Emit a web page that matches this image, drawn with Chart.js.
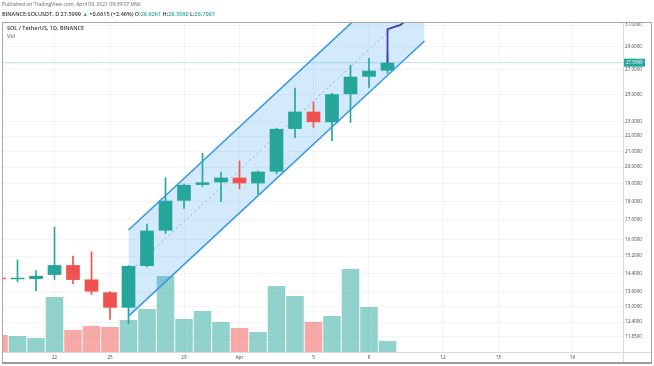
<!DOCTYPE html>
<html><head><meta charset="utf-8">
<script src="https://cdn.jsdelivr.net/npm/chart.js@4"></script>
<style>
html,body{margin:0;padding:0;background:#fff;}
#wrap{position:relative;width:654px;height:366px;overflow:hidden;font-family:'Open Sans',sans-serif;}
canvas{position:absolute;left:0;top:0;}
.t{position:absolute;white-space:nowrap;line-height:1;}
.g{color:#26a69a;}
</style></head><body>
<div id="wrap">
<canvas id="c" width="654" height="366"></canvas>
<div class="t" style="left:2px;top:2px;font-size:5px;color:#666">Published on TradingView.com, April 09, 2021 09:39:07 MSK</div>
<div class="t" style="left:2px;top:12px;font-size:5.5px;font-weight:600;color:#333">BINANCE:SOLUSDT, D 27.5999 <span class="g">▲</span> +0.6615 (+2.46%) O:<span class="g">26.9261</span> H:<span class="g">28.3580</span> L:<span class="g">26.7097</span></div>
<div class="t" style="left:7px;top:26px;font-size:5.5px;font-weight:600;color:#333">SOL / TetherUS, 1D, BINANCE</div>
<div class="t" style="left:7px;top:34px;font-size:5.5px;color:#555">Vol</div>
</div>
<script>
const dates = ['Mar 19','Mar 20','Mar 21','Mar 22','Mar 23','Mar 24','Mar 25','Mar 26','Mar 27','Mar 28','Mar 29','Mar 30','Mar 31','Apr 1','Apr 2','Apr 3','Apr 4','Apr 5','Apr 6','Apr 7','Apr 8','Apr 9'];
const open  = [14.19,14.15,14.16,14.34,14.78,14.14,13.59,12.96,14.74,16.44,18.03,18.93,19.08,19.36,19.02,19.72,22.50,23.73,22.97,25.04,26.43,26.9261];
const high  = [14.22,15.02,14.53,16.61,15.20,15.40,13.62,14.76,16.77,19.36,18.98,20.87,19.70,20.38,19.75,22.55,25.51,24.44,25.10,27.40,27.98,28.358];
const low   = [14.12,14.04,13.65,14.14,13.96,13.50,12.50,12.35,14.70,16.30,17.60,18.85,17.97,18.70,18.40,19.60,21.90,22.60,21.70,22.95,25.57,26.7097];
const close = [14.15,14.19,14.30,14.78,14.12,13.62,12.96,14.74,16.44,18.03,18.93,19.08,19.36,19.02,19.72,22.50,23.73,22.97,25.04,26.43,26.93,27.5999];
const volume = [1.7,1.6,1.4,5.5,2.2,2.6,2.5,3.2,4.3,7.6,3.3,4.1,3.0,2.4,2.0,6.6,5.6,3.0,3.6,8.3,4.5,1.1];
const priceTicks = [31,29,27,25,23,22,21,20,19,18,17,16,15.2,14.4,13.6,13,12.4,11.85];
const dayTicks = [3,6,10,13,17,20,24,27,31];
const dayTickLabels = ['22','25','29','Apr','5','8','12','15','19'];
const channelDays = [7,23];
const channelUpper = [16.47,38.48];
const channelLower = [12.63,29.51];
const channelMid = [14.42,33.70];
const projDays = [21,21,21.14,21.41,21.68,21.85,22.0];
const projPrices = [27.5999,30.60,30.69,30.84,30.98,31.22,31.35];
const lastPrice = 27.5999;

const UP='#26a69a', DOWN='#ef5350';
const isUp = close.map((c,i)=>c>=open[i]);

const decor = {
  id:'decor',
  afterDraw(chart){
    const ctx=chart.ctx, y=chart.scales.y, a=chart.chartArea;
    const py=y.getPixelForValue(lastPrice);
    ctx.save();
    ctx.strokeStyle='#dadada'; ctx.lineWidth=1;
    ctx.beginPath(); ctx.moveTo(a.left,a.bottom+0.5); ctx.lineTo(652,a.bottom+0.5); ctx.stroke();
    ctx.beginPath(); ctx.moveTo(a.right+0.5,a.top); ctx.lineTo(a.right+0.5,363); ctx.stroke();
    ctx.fillStyle=UP;
    ctx.fillRect(a.right+1, py-4, 21, 8);
    ctx.fillStyle='#fff'; ctx.font='4.5px "Open Sans"'; ctx.textBaseline='middle'; ctx.textAlign='left';
    ctx.fillText(lastPrice.toFixed(4), a.right+3, py);
    ctx.strokeStyle='#a8a8a8';
    ctx.strokeRect(2.5,22.5,649,340);
    ctx.fillStyle='#9c9c9c'; ctx.fillRect(2,362,650,2);
    ctx.restore();
  }
};

new Chart(document.getElementById('c'), {
  type:'bar',
  data:{
    datasets:[
      {type:'bar', label:'Vol', yAxisID:'yv', order:10, grouped:false,
       data: volume.map((v,i)=>({x:i,y:v})),
       backgroundColor: isUp.map(u=>u?'rgba(38,166,154,0.5)':'rgba(239,83,80,0.5)'),
       barPercentage:0.95, categoryPercentage:1, borderWidth:0},
      {type:'bar', label:'wick', yAxisID:'y', order:8, grouped:false,
       data: dates.map((d,i)=>({x:i,y:[low[i],high[i]]})),
       backgroundColor: isUp.map(u=>u?UP:DOWN), barThickness:1, borderWidth:0},
      {type:'bar', label:'body', yAxisID:'y', order:7, grouped:false,
       data: dates.map((d,i)=>({x:i,y:[open[i],close[i]]})),
       backgroundColor: isUp.map(u=>u?UP:DOWN), barPercentage:0.74, categoryPercentage:1, minBarLength:1.5, borderWidth:0},
      {type:'line', label:'fillUpper', yAxisID:'y', order:9,
       data: channelDays.map((d,i)=>({x:d,y:channelUpper[i]})),
       borderWidth:0, pointRadius:0, fill:'+1', backgroundColor:'rgba(33,150,243,0.2)'},
      {type:'line', label:'fillLower', yAxisID:'y', order:9,
       data: channelDays.map((d,i)=>({x:d,y:channelLower[i]})),
       borderWidth:0, pointRadius:0, fill:false},
      {type:'line', label:'upper', yAxisID:'y', order:5,
       data: channelDays.map((d,i)=>({x:d,y:channelUpper[i]})),
       borderColor:'#3a97e6', borderWidth:1.6, pointRadius:0, fill:false},
      {type:'line', label:'lower', yAxisID:'y', order:5,
       data: channelDays.map((d,i)=>({x:d,y:channelLower[i]})),
       borderColor:'#3a97e6', borderWidth:1.6, pointRadius:0, fill:false},
      {type:'line', label:'mid', yAxisID:'y', order:4,
       data: channelDays.map((d,i)=>({x:d,y:channelMid[i]})),
       borderColor:'rgba(110,130,150,0.6)', borderWidth:1, borderDash:[2,3], pointRadius:0, fill:false},
      {type:'line', label:'last', yAxisID:'y', order:9,
       data: [{x:0.216,y:lastPrice},{x:33.73,y:lastPrice}],
       borderColor:'rgba(38,166,154,0.3)', borderWidth:1, pointRadius:0, fill:false},
      {type:'line', label:'proj', yAxisID:'y', order:1,
       data: projDays.map((d,i)=>({x:d,y:projPrices[i]})),
       borderColor:'#4a3aa8', borderWidth:1.8, pointRadius:0, fill:false, tension:0}
    ]
  },
  options:{
    responsive:false, animation:false, devicePixelRatio:1,
    layout:{padding:{left:3,top:22,right:2,bottom:3}},
    plugins:{legend:{display:false}, tooltip:{enabled:false}},
    scales:{
      x:{type:'linear', min:0.216, max:33.73, offset:false,
         grid:{color:'rgba(0,0,0,0.045)', drawTicks:false, offset:false},
         border:{display:false},
         afterBuildTicks(ax){ ax.ticks = dayTicks.map(v=>({value:v})); },
         afterFit(ax){ ax.height = 11; },
         ticks:{autoSkip:false, maxRotation:0, padding:3, color:'#444', font:{size:4.6, family:'Open Sans'},
                callback:(v,i)=>dayTickLabels[i]}},
      y:{type:'logarithmic', position:'right', min:11.305, max:31.29,
         grid:{color:'rgba(0,0,0,0.045)', drawTicks:false},
         border:{display:false},
         afterBuildTicks(ax){ ax.ticks = priceTicks.map(v=>({value:v})); },
         afterFit(ax){ ax.width = 29; },
         ticks:{autoSkip:false, padding:2, color:'#444', font:{size:4.6, family:'Open Sans'},
                callback:(v)=>Number(v).toFixed(4)}},
      yv:{type:'linear', display:false, min:0, max:33}
    }
  },
  plugins:[decor]
});
</script>
</body></html>
